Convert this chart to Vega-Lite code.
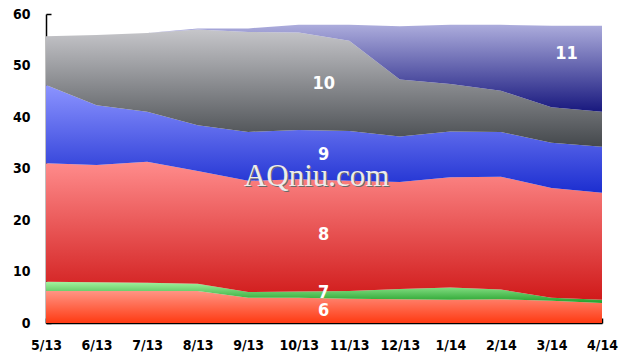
{
  "$schema": "https://vega.github.io/schema/vega-lite/v6.json",
  "width": 556,
  "height": 309,
  "autosize": "none",
  "padding": {"left": 46, "top": 14, "right": 38, "bottom": 41},
  "background": "white",
  "config": {"view": {"stroke": null}},
  "datasets": {
    "share": [
      {"month": "5/13", "series": "6", "order": 1, "value": 6.2},
      {"month": "6/13", "series": "6", "order": 1, "value": 6.2},
      {"month": "7/13", "series": "6", "order": 1, "value": 6.2},
      {"month": "8/13", "series": "6", "order": 1, "value": 6.2},
      {"month": "9/13", "series": "6", "order": 1, "value": 4.9},
      {"month": "10/13", "series": "6", "order": 1, "value": 4.9},
      {"month": "11/13", "series": "6", "order": 1, "value": 4.7},
      {"month": "12/13", "series": "6", "order": 1, "value": 4.6},
      {"month": "1/14", "series": "6", "order": 1, "value": 4.5},
      {"month": "2/14", "series": "6", "order": 1, "value": 4.6},
      {"month": "3/14", "series": "6", "order": 1, "value": 4.3},
      {"month": "4/14", "series": "6", "order": 1, "value": 3.9},
      {"month": "5/13", "series": "7", "order": 2, "value": 1.8},
      {"month": "6/13", "series": "7", "order": 2, "value": 1.7},
      {"month": "7/13", "series": "7", "order": 2, "value": 1.6},
      {"month": "8/13", "series": "7", "order": 2, "value": 1.4},
      {"month": "9/13", "series": "7", "order": 2, "value": 1.1},
      {"month": "10/13", "series": "7", "order": 2, "value": 1.2},
      {"month": "11/13", "series": "7", "order": 2, "value": 1.5},
      {"month": "12/13", "series": "7", "order": 2, "value": 2.0},
      {"month": "1/14", "series": "7", "order": 2, "value": 2.4},
      {"month": "2/14", "series": "7", "order": 2, "value": 1.9},
      {"month": "3/14", "series": "7", "order": 2, "value": 0.6},
      {"month": "4/14", "series": "7", "order": 2, "value": 0.6},
      {"month": "5/13", "series": "8", "order": 3, "value": 23.0},
      {"month": "6/13", "series": "8", "order": 3, "value": 22.8},
      {"month": "7/13", "series": "8", "order": 3, "value": 23.5},
      {"month": "8/13", "series": "8", "order": 3, "value": 21.9},
      {"month": "9/13", "series": "8", "order": 3, "value": 21.6},
      {"month": "10/13", "series": "8", "order": 3, "value": 21.8},
      {"month": "11/13", "series": "8", "order": 3, "value": 21.4},
      {"month": "12/13", "series": "8", "order": 3, "value": 20.8},
      {"month": "1/14", "series": "8", "order": 3, "value": 21.4},
      {"month": "2/14", "series": "8", "order": 3, "value": 21.9},
      {"month": "3/14", "series": "8", "order": 3, "value": 21.3},
      {"month": "4/14", "series": "8", "order": 3, "value": 20.8},
      {"month": "5/13", "series": "9", "order": 4, "value": 15.2},
      {"month": "6/13", "series": "9", "order": 4, "value": 11.6},
      {"month": "7/13", "series": "9", "order": 4, "value": 9.7},
      {"month": "8/13", "series": "9", "order": 4, "value": 8.9},
      {"month": "9/13", "series": "9", "order": 4, "value": 9.5},
      {"month": "10/13", "series": "9", "order": 4, "value": 9.6},
      {"month": "11/13", "series": "9", "order": 4, "value": 9.7},
      {"month": "12/13", "series": "9", "order": 4, "value": 8.8},
      {"month": "1/14", "series": "9", "order": 4, "value": 8.9},
      {"month": "2/14", "series": "9", "order": 4, "value": 8.7},
      {"month": "3/14", "series": "9", "order": 4, "value": 8.8},
      {"month": "4/14", "series": "9", "order": 4, "value": 8.9},
      {"month": "5/13", "series": "10", "order": 5, "value": 9.5},
      {"month": "6/13", "series": "10", "order": 5, "value": 13.6},
      {"month": "7/13", "series": "10", "order": 5, "value": 15.3},
      {"month": "8/13", "series": "10", "order": 5, "value": 18.6},
      {"month": "9/13", "series": "10", "order": 5, "value": 19.4},
      {"month": "10/13", "series": "10", "order": 5, "value": 18.9},
      {"month": "11/13", "series": "10", "order": 5, "value": 17.5},
      {"month": "12/13", "series": "10", "order": 5, "value": 11.1},
      {"month": "1/14", "series": "10", "order": 5, "value": 9.2},
      {"month": "2/14", "series": "10", "order": 5, "value": 8.0},
      {"month": "3/14", "series": "10", "order": 5, "value": 6.9},
      {"month": "4/14", "series": "10", "order": 5, "value": 6.8},
      {"month": "5/13", "series": "11", "order": 6, "value": 0.0},
      {"month": "6/13", "series": "11", "order": 6, "value": 0.0},
      {"month": "7/13", "series": "11", "order": 6, "value": 0.0},
      {"month": "8/13", "series": "11", "order": 6, "value": 0.2},
      {"month": "9/13", "series": "11", "order": 6, "value": 0.7},
      {"month": "10/13", "series": "11", "order": 6, "value": 1.5},
      {"month": "11/13", "series": "11", "order": 6, "value": 3.1},
      {"month": "12/13", "series": "11", "order": 6, "value": 10.3},
      {"month": "1/14", "series": "11", "order": 6, "value": 11.5},
      {"month": "2/14", "series": "11", "order": 6, "value": 12.8},
      {"month": "3/14", "series": "11", "order": 6, "value": 15.8},
      {"month": "4/14", "series": "11", "order": 6, "value": 16.7}
    ],
    "labels": [
      {"month": "10/13", "label": "6", "pos": 2.3},
      {"month": "10/13", "label": "7", "pos": 5.8},
      {"month": "10/13", "label": "8", "pos": 17.1},
      {"month": "10/13", "label": "9", "pos": 32.6},
      {"month": "10/13", "label": "10", "pos": 46.4}
    ],
    "labels2": [
      {"month": "3/14", "label": "11", "pos": 52.3}
    ],
    "mark": [
      {"month": "10/13", "text": "AQniu.com", "pos": 28.4}
    ]
  },
  "layer": [
    {
      "data": {"name": "share"},
      "transform": [
        {"stack": "value", "groupby": ["month"], "sort": [{"field": "order", "order": "ascending"}], "as": ["y0", "y1"]}
      ],
      "encoding": {
        "x": {
          "field": "month", "type": "ordinal",
          "scale": {"type": "point", "padding": 0, "domain": ["5/13","6/13","7/13","8/13","9/13","10/13","11/13","12/13","1/14","2/14","3/14","4/14"]},
          "axis": {
            "title": null, "labelAngle": 0, "grid": false,
            "domainColor": "#000", "domainWidth": 1.5,
            "tickColor": "#000", "tickWidth": 1.5, "tickSize": -5,
            "labelPadding": 20,
            "labelFont": "DejaVu Sans Condensed, Liberation Sans Narrow, Arial Narrow, sans-serif", "labelFontWeight": "bold",
            "labelFontSize": 14, "labelColor": "#000"
          }
        },
        "y": {
          "field": "y0", "type": "quantitative",
          "scale": {"domain": [0, 60], "nice": false},
          "axis": {
            "title": null, "grid": false, "values": [0,10,20,30,40,50,60],
            "domainColor": "#000", "domainWidth": 1.5,
            "tickColor": "#000", "tickWidth": 1.5, "tickSize": -5,
            "labelPadding": 21,
            "labelFont": "DejaVu Sans Condensed, Liberation Sans Narrow, Arial Narrow, sans-serif", "labelFontWeight": "bold",
            "labelFontSize": 14, "labelColor": "#000"
          }
        },
        "y2": {"field": "y1"}
      },
      "layer": [
        {"transform": [{"filter": "datum.series == '6'"}],
         "mark": {"type": "area", "color": {"gradient": "linear", "x1": 0, "y1": 0, "x2": 0, "y2": 1,
           "stops": [{"offset": 0, "color": "#ff9484"}, {"offset": 1, "color": "#ff3a12"}]}}},
        {"transform": [{"filter": "datum.series == '7'"}],
         "mark": {"type": "area", "color": {"gradient": "linear", "x1": 0, "y1": 0, "x2": 0, "y2": 1,
           "stops": [{"offset": 0, "color": "#a4f2a0"}, {"offset": 1, "color": "#22a02a"}]}}},
        {"transform": [{"filter": "datum.series == '8'"}],
         "mark": {"type": "area", "color": {"gradient": "linear", "x1": 0, "y1": 0, "x2": 0, "y2": 1,
           "stops": [{"offset": 0, "color": "#ff8c8c"}, {"offset": 1, "color": "#d01a1a"}]}}},
        {"transform": [{"filter": "datum.series == '9'"}],
         "mark": {"type": "area", "color": {"gradient": "linear", "x1": 0, "y1": 0, "x2": 0, "y2": 1,
           "stops": [{"offset": 0, "color": "#8c94ff"}, {"offset": 1, "color": "#1c2ed0"}]}}},
        {"transform": [{"filter": "datum.series == '10'"}],
         "mark": {"type": "area", "color": {"gradient": "linear", "x1": 0, "y1": 0, "x2": 0, "y2": 1,
           "stops": [{"offset": 0, "color": "#c6c6ca"}, {"offset": 1, "color": "#44484c"}]}}},
        {"transform": [{"filter": "datum.series == '11'"}],
         "mark": {"type": "area", "color": {"gradient": "linear", "x1": 0, "y1": 0, "x2": 0, "y2": 1,
           "stops": [{"offset": 0, "color": "#acacdc"}, {"offset": 1, "color": "#18187e"}]}}}
      ]
    },
    {
      "data": {"name": "mark"},
      "mark": {"type": "text", "font": "Liberation Serif", "fontSize": 31, "dx": 19, "dy": 1, "fill": "#6a6a6a", "align": "center", "baseline": "middle"},
      "encoding": {
        "x": {"field": "month", "type": "ordinal"},
        "y": {"field": "pos", "type": "quantitative"},
        "text": {"field": "text"}
      }
    },
    {
      "data": {"name": "mark"},
      "mark": {"type": "text", "font": "Liberation Serif", "fontSize": 31, "dx": 18, "fill": "#ececec", "align": "center", "baseline": "middle"},
      "encoding": {
        "x": {"field": "month", "type": "ordinal"},
        "y": {"field": "pos", "type": "quantitative"},
        "text": {"field": "text"}
      }
    },
    {
      "data": {"name": "labels"},
      "mark": {"type": "text", "font": "DejaVu Sans Condensed, Liberation Sans Narrow, Arial Narrow, sans-serif", "fontWeight": "bold", "fontSize": 18, "dx": 25, "fill": "#ffffff", "align": "center", "baseline": "middle"},
      "encoding": {
        "x": {"field": "month", "type": "ordinal"},
        "y": {"field": "pos", "type": "quantitative"},
        "text": {"field": "label"}
      }
    },
    {
      "data": {"name": "labels2"},
      "mark": {"type": "text", "font": "DejaVu Sans Condensed, Liberation Sans Narrow, Arial Narrow, sans-serif", "fontWeight": "bold", "fontSize": 18, "dx": 15, "fill": "#ffffff", "align": "center", "baseline": "middle"},
      "encoding": {
        "x": {"field": "month", "type": "ordinal"},
        "y": {"field": "pos", "type": "quantitative"},
        "text": {"field": "label"}
      }
    }
  ]
}
